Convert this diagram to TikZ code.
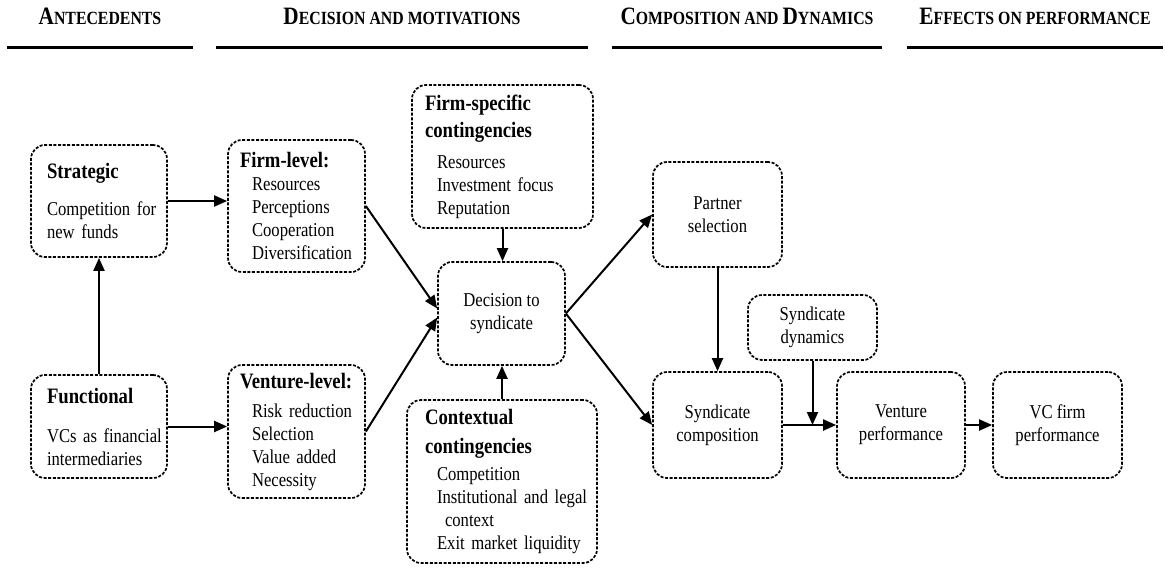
\documentclass[tikz,border=0pt]{standalone}
\usepackage{fontspec}
\setmainfont{Liberation Serif}[FakeStretch=0.85]
\newfontfamily\headfont{Liberation Serif}[FakeStretch=0.85]
\usetikzlibrary{arrows.meta,calc}
\newcommand{\hbig}[1]{{\fontsize{12.5}{12}\selectfont #1}}
\newcommand{\hsmall}[1]{{\fontsize{9.3}{9}\selectfont #1}}
\newcommand{\boxhead}[1]{{\fontsize{11}{11.5}\selectfont\bfseries #1}}
\newcommand{\itemind}{\hspace*{6pt}}
\hyphenpenalty=10000
\exhyphenpenalty=10000
\tikzset{
  dbox/.style={draw, line width=0.85pt, dash pattern=on 1.5pt off 0.8pt, rounded corners=7pt},
  lbox/.style={dbox, align=left, inner xsep=6pt},
  cbox/.style={dbox, align=center, inner sep=2pt},
  head/.style={font=\headfont\bfseries, anchor=base, inner sep=0pt},
  conn/.style={line width=1pt, -{Triangle[length=6.5pt,width=5.5pt]}},
  rule/.style={line width=1.5pt}
}
\begin{document}
\begin{tikzpicture}[x=0.5pt,y=-0.5pt,font=\fontsize{9.8}{11.5}\selectfont]
\useasboundingbox (0,0) rectangle (1165,567);
% column headings
\foreach \a/\b/\lab [count=\i] in {7/193/{\hbig{A}\hsmall{NTECEDENTS}},
    216/588/{\hbig{D}\hsmall{ECISION AND MOTIVATIONS}},
    612/882/{\hbig{C}\hsmall{OMPOSITION AND }\hbig{D}\hsmall{YNAMICS}},
    907/1163/{\hbig{E}\hsmall{FFECTS ON PERFORMANCE}}}{
  \draw[rule] (\a,48) -- (\b,48);
  \node[head] (head\i) at ({(\a+\b)/2},25) {\lab};
}
% antecedents
\node[lbox, inner xsep=8pt, text width=52pt, minimum height=56pt] (strat) at (99,201)
  {\boxhead{Strategic}\\[7pt] Competition~for\\ new funds};
\node[lbox, inner xsep=8pt, text width=52pt, minimum height=51.5pt] (func) at (99,426.5)
  {\boxhead{Functional}\\[8pt] VCs~as~financial\\ intermediaries};
% motivations
\node[lbox, text width=56.5pt, minimum height=66pt] (firm) at (296.5,206)
  {\boxhead{Firm-level:}\\ \itemind Resources\\ \itemind Perceptions\\ \itemind Cooperation\\ \itemind Diversification};
\node[lbox, text width=56.5pt, minimum height=66.5pt] (vent) at (296.5,431.5)
  {\boxhead{Venture-level:}\\[3pt] \itemind Risk~reduction\\ \itemind Selection\\ \itemind Value~added\\ \itemind Necessity};
\node[lbox, inner xsep=6.5pt, text width=77.5pt, minimum height=71.5pt] (spec) at (502.5,156.5)
  {\boxhead{Firm-specific}\\[2pt] \boxhead{contingencies}\\[4pt] \itemind Resources\\ \itemind Investment~focus\\ \itemind Reputation};
\node[lbox, inner xsep=9pt, text width=77pt, minimum height=81.5pt] (ctx) at (502,481.5)
  {\boxhead{Contextual}\\[3pt] \boxhead{contingencies}\\[2pt] \itemind Competition\\ \itemind Institutional~and~legal\\ \hspace*{10pt}context\\ \itemind Exit~market~liquidity};
\node[cbox, minimum width=63.5pt, minimum height=51.5pt] (dec) at (501.5,313.5) {Decision to\\ syndicate};
% composition and performance
\node[cbox, minimum width=64.5pt, minimum height=52.5pt] (partner) at (717.5,214.5) {Partner\\ selection};
\node[cbox, minimum width=64.5pt, minimum height=32.5pt] (dyn) at (812.5,327.5) {Syndicate\\ dynamics};
\node[cbox, minimum width=64.5pt, minimum height=53pt] (comp) at (717.5,425) {Syndicate\\ composition};
\node[cbox, minimum width=64pt, minimum height=53pt] (vperf) at (901,425) {Venture\\ performance};
\node[cbox, minimum width=64.5pt, minimum height=53pt] (vcperf) at (1057.5,425) {VC firm\\ performance};
% arrows
\draw[conn] (strat.east) -- (strat.east -| firm.west);
\draw[conn] (func) -- (strat);
\draw[conn] (func.east) -- (func.east -| vent.west);
\draw[conn] (firm.east) -- ($(dec.west)+(0,-5)$);
\draw[conn] (vent.east) -- ($(dec.west)+(0,4)$);
\draw[conn] (spec) -- (spec |- dec.north);
\draw[conn] (ctx) -- (ctx |- dec.south);
\draw[conn] (dec.east) -- (partner.west);
\draw[conn] (dec.east) -- (comp.west);
\draw[conn] (partner) -- (comp);
\draw[conn] (comp) -- (vperf);
\draw[conn] (dyn) -- (dyn |- comp.east);
\draw[conn] (vperf) -- (vcperf);
\end{tikzpicture}
\end{document}
